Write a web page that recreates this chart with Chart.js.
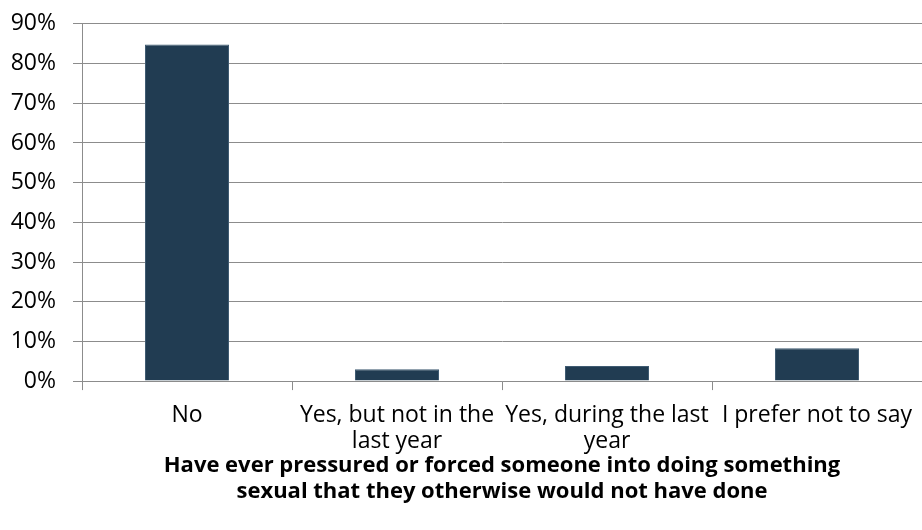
<!DOCTYPE html>
<html>
<head>
<meta charset="utf-8">
<script src="https://cdn.jsdelivr.net/npm/chart.js@4"></script>
<style>
	html, body { margin: 0; padding: 0; background: #fff; }
	#wrap { width: 922px; height: 530px; }
</style>
</head>
<body>
<div id="wrap"><canvas id="myChart" width="922" height="530"></canvas></div>
<script>
// answers and share of respondents (percent)
var answers = [
	['No'],
	['Yes, but not in the', 'last year'],
	['Yes, during the last', 'year'],
	['I prefer not to say']
];
var share = [84.8, 3.0, 3.8, 8.3];
var yTicks = [0, 10, 20, 30, 40, 50, 60, 70, 80, 90];
var axisTitle = ['Have ever pressured or forced someone into doing something', 'sexual that they otherwise would not have done'];

var ctx = document.getElementById('myChart').getContext('2d');
var fontName = '"Open Sans", sans-serif';

var data = {
	labels: answers,
	datasets: [{
		label: 'share',
		data: share,
		backgroundColor: '#213c52',
		borderColor: '#3f5b72',
		borderWidth: 1,
		barPercentage: 0.4,
		categoryPercentage: 1.0
	}]
};

var myChart = new Chart(ctx, {
	type: 'bar',
	data: data,
	options: {
		responsive: false,
		animation: false,
		layout: { padding: { top: 1, right: 0, bottom: 25, left: 0 } },
		plugins: {
			legend: { display: false },
			tooltip: { enabled: false }
		},
		scales: {
			y: {
				min: 0,
				max: 90,
				afterBuildTicks: function(axis) {
					axis.ticks = yTicks.map(function(v) { return { value: v }; });
				},
				afterFit: function(axis) { axis.width = 82; },
				border: { color: '#8c8c8c', width: 1 },
				grid: { color: '#8c8c8c', lineWidth: 1, tickLength: 9 },
				ticks: {
					color: '#000',
					padding: 17,
					font: { family: fontName, size: 23, lineHeight: 0.6 },
					callback: function(v) { return v + '%'; }
				}
			},
			x: {
				// plot runs to the right edge of the canvas
				afterFit: function(axis) {
					axis.paddingRight = 0;
					axis.paddingLeft = 0;
				},
				border: { color: '#8c8c8c', width: 1 },
				grid: { drawOnChartArea: false, color: '#8c8c8c', tickLength: 9, offset: true },
				ticks: {
					color: '#000',
					autoSkip: false,
					maxRotation: 0,
					padding: 12,
					font: { family: fontName, size: 23, lineHeight: 1.13 }
				},
				title: {
					display: true,
					text: axisTitle,
					color: '#000',
					padding: { top: -13, bottom: 0 },
					font: { family: fontName, size: 22, weight: 'bold', lineHeight: 1.18 }
				}
			}
		}
	}
});
</script>
</body>
</html>
